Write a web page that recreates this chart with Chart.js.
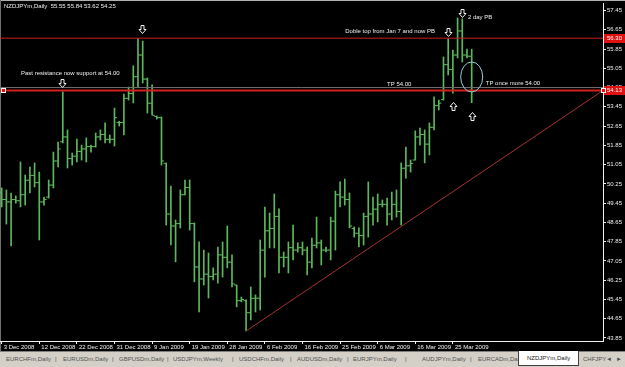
<!DOCTYPE html>
<html>
<head>
<meta charset="utf-8">
<script src="https://cdn.jsdelivr.net/npm/chart.js@4.4.1/dist/chart.umd.min.js"></script>
<style>
  body { margin: 0; background: #000; width: 625px; height: 367px; overflow: hidden; }
  #wrap { position: relative; width: 625px; height: 351px; background: #000; }
  #tabs { position: relative; width: 625px; height: 16px; background: #d4d0c8; border-top: 1px solid #808080;
          font: 6px "Liberation Sans", Arial, sans-serif; color: #505050; box-sizing: border-box; }
  #tabs span { position: absolute; top: 4px; white-space: nowrap; }
  #tabs .active { top: -1px; height: 14px; line-height: 14px; padding: 0 8px; background: #fff; border: 1px solid #404040;
                  border-top: none; color: #202020; }
</style>
</head>
<body>
<div id="wrap"><canvas id="chart" width="625" height="351"></canvas></div>
<div id="tabs"></div>
<script>
// NZDJPYm daily bars, 3 Dec 2008 .. 31 Mar 2009
const opens = [49.9,49.6,49.5,49.6,49.55,49.8,50.4,50.6,50.3,49.5, 49.7,50.2,51.2,52.0,52.2,51.3,51.4,51.6,51.7,51.8,
  51.8,52.2,52.3,52.1,52.1,52.8,52.8,53.8,54.0,54.7, 55.6,54.6,53.6,53.05,53.0,51.1,49.0,48.5,48.6,49.8,
  50.1,48.6,46.8,46.3,46.5,46.4,46.5,47.3,47.2,47.0, 46.05,45.4,45.4,44.9,45.5,45.5,47.5,48.3,48.4,48.9,
  47.2,47.2,47.6,47.5,47.6,47.5,47.0,47.7,47.8,47.5, 47.5,48.7,49.8,49.7,49.6,48.4,48.2,48.1,48.9,49.0,
  49.2,49.4,49.4,49.0,49.4,49.1,50.9,51.0,51.24,52.2, 52.3,51.9,52.6,53.5,53.75,55.2,55.0,55.6,56.6,55.6,
  55.55];
const highs = [50.08,50.00,49.87,49.75,51.16,50.62,50.95,51.12,50.74,49.70, 50.41,51.57,51.99,54.07,52.49,51.53,52.11,51.86,52.16,51.86,
  52.36,52.49,52.78,52.28,53.40,52.85,53.98,54.27,55.15,56.27, 56.18,54.65,54.36,53.07,53.03,51.12,50.16,48.75,50.00,50.41,
  50.41,48.63,47.84,47.50,47.38,46.76,47.63,47.84,48.50,47.30, 46.05,45.55,45.43,45.97,45.64,47.92,49.29,49.04,49.83,49.21,
  47.42,47.84,48.54,47.80,47.84,47.63,48.00,48.87,47.92,47.63, 48.87,49.95,50.33,50.45,49.87,48.46,48.42,49.04,50.33,49.70,
  49.83,49.58,49.66,49.91,50.00,51.12,51.78,51.24,52.45,52.57, 52.49,52.78,53.86,53.73,55.52,56.27,55.81,57.14,57.10,55.85,
  55.84];
const lows = [49.29,48.58,47.67,49.45,49.29,49.37,49.87,50.12,47.92,49.37, 49.66,50.08,50.95,51.95,50.91,51.03,51.16,51.24,51.16,51.57,
  51.78,52.07,51.95,51.95,51.82,52.65,52.28,53.73,53.61,54.27, 54.44,53.19,53.11,52.94,51.03,48.54,47.71,47.01,48.42,49.79,
  48.33,46.18,44.93,46.05,45.51,46.26,46.13,46.38,46.76,45.97, 45.14,45.35,44.14,44.60,44.93,45.01,46.38,47.59,47.59,46.55,
  46.80,46.55,47.09,47.42,47.30,46.47,46.76,47.59,46.88,47.42, 47.09,47.50,49.29,49.37,48.42,48.04,47.63,47.71,48.04,48.54,
  48.67,49.29,48.54,48.75,48.87,48.54,50.49,50.74,51.24,51.86, 51.12,51.45,52.49,53.32,53.73,54.77,54.02,55.48,55.31,55.48,
  53.62];
const closes = [49.6,49.5,49.6,49.55,49.8,50.4,50.6,50.3,49.5,49.6, 50.2,51.2,51.7,52.2,51.3,51.4,51.6,51.7,51.8,51.8,
  52.2,52.3,52.1,52.1,53.0,52.8,53.8,54.0,54.7,55.6, 54.6,53.6,53.1,53.0,51.2,49.0,48.5,48.6,49.8,50.1,
  48.6,46.8,46.3,46.5,46.4,46.5,47.3,47.2,47.0,46.1, 45.4,45.45,44.9,45.5,45.5,47.5,48.3,48.4,48.9,47.2,
  47.2,47.6,47.5,47.6,47.5,47.0,47.7,47.8,47.5,47.5, 48.7,49.8,49.7,49.6,48.5,48.2,48.1,48.9,49.0,49.2,
  49.4,49.4,49.0,49.4,49.1,50.9,51.0,51.1,52.2,52.3, 51.9,52.6,53.5,53.6,55.2,55.0,55.6,56.6,55.6,55.55,
  54.25];

const dateTickIndex = [0, 8, 16, 24, 32, 40, 48, 56, 64, 72, 80, 88, 96];
const dateLabels = ['3 Dec 2008', '12 Dec 2008', '22 Dec 2008', '31 Dec 2008', '9 Jan 2009', '19 Jan 2009',
  '28 Jan 2009', '6 Feb 2009', '16 Feb 2009', '25 Feb 2009', '6 Mar 2009', '16 Mar 2009', '25 Mar 2009'];
const priceTicks = [57.45, 56.65, 55.85, 55.05, 54.25, 53.45, 52.65, 51.85, 51.05, 50.25, 49.45,
  48.65, 47.85, 47.05, 46.25, 45.45, 44.65, 43.85];

const resistance = 56.30;
const support = 54.13;
const bidPrice = 54.25;
const trendStart = { x: 52, y: 44.14 };

const notes = [
  { text: 'Past resistance now support at 54.00', x: 4.1, y: 54.85 },
  { text: 'Doble top from Jan 7 and now PB', x: 73.1, y: 56.60 },
  { text: '2 day PB', x: 99.2, y: 57.18 },
  { text: 'TP 54.00', x: 82.0, y: 54.40 },
  { text: 'TP once more 54.00', x: 103.0, y: 54.44 }
];
const downArrows = [{ x: 12.8, y: 54.44 }, { x: 29.85, y: 56.68 }, { x: 94.95, y: 56.56 }, { x: 97.9, y: 57.35 }];
const upArrows = [{ x: 96, y: 53.48 }, { x: 100, y: 53.07 }];
const circleMark = { x: 100, y: 54.69 };

const tabs = [
  ['EURCHFm,Daily', 6], ['|', 55], ['EURUSDm,Daily', 63], ['|', 112], ['GBPUSDm,Daily', 119], ['|', 167],
  ['USDJPYm,Weekly', 173], ['|', 232], ['USDCHFm,Daily', 239], ['|', 290], ['AUDUSDm,Daily', 297], ['|', 347],
  ['EURJPYm,Daily', 353], ['|', 405], ['AUDJPYm,Daily', 422], ['|', 470], ['EURCADm,Daily', 478],
  ['CHFJPY', 583], ['\u25C4', 606], ['\u25BA', 616]
];

const xMin = -0.36, xMax = 127.94;
const barGreen = '#5cb85c';
const font = { family: '"Liberation Sans", Arial, sans-serif', size: 6 };

const tabBar = document.getElementById('tabs');
tabs.forEach(([t, left]) => {
  const s = document.createElement('span');
  s.textContent = t;
  s.style.left = left + 'px';
  tabBar.appendChild(s);
});
const act = document.createElement('span');
act.className = 'active';
act.textContent = 'NZDJPYm,Daily';
act.style.left = '518px';
tabBar.appendChild(act);

const idx = highs.map((_, i) => i);

const overlay = {
  id: 'overlay',
  beforeDraw(chart) {
    const ctx = chart.ctx;
    ctx.save();
    ctx.fillStyle = '#000';
    ctx.fillRect(0, 0, chart.width, chart.height);
    ctx.fillStyle = '#b0b0b0';
    ctx.fillRect(0, 0, chart.width, 1);
    ctx.fillStyle = '#707070';
    ctx.fillRect(0, 0, 1, chart.height);
    ctx.restore();
  },
  afterDatasetsDraw(chart) {
    const ctx = chart.ctx;
    const xs = chart.scales.x, ys = chart.scales.y;
    const px = v => xs.getPixelForValue(v);
    const py = v => ys.getPixelForValue(v);
    ctx.save();
    ctx.font = `${font.size}px ${font.family}`;
    ctx.fillStyle = '#f0f0f0';
    ctx.textBaseline = 'middle';
    ctx.textAlign = 'left';
    const last = highs.length - 1;
    ctx.fillText(`NZDJPYm,Daily  ${opens[last].toFixed(2)} ${highs[last].toFixed(2)} ${lows[last].toFixed(2)} ${closes[last].toFixed(2)}`, 4, 6);
    notes.forEach(n => ctx.fillText(n.text, px(n.x), py(n.y)));

    // ellipse round the last bar
    ctx.strokeStyle = '#8fcfd8';
    ctx.lineWidth = 1;
    ctx.beginPath();
    ctx.ellipse(px(circleMark.x), py(circleMark.y), 11, 15, 0, 0, Math.PI * 2);
    ctx.stroke();

    // hollow arrows
    ctx.strokeStyle = '#f0f0f0';
    const arrow = (a, dir) => {
      const cx = Math.round(px(a.x)) + 0.5, cy = Math.round(py(a.y)) + 0.5;
      ctx.beginPath();
      ctx.moveTo(cx - 1.5, cy - 4 * dir);
      ctx.lineTo(cx + 1.5, cy - 4 * dir);
      ctx.lineTo(cx + 1.5, cy);
      ctx.lineTo(cx + 3.5, cy);
      ctx.lineTo(cx, cy + 4 * dir);
      ctx.lineTo(cx - 3.5, cy);
      ctx.lineTo(cx - 1.5, cy);
      ctx.closePath();
      ctx.stroke();
    };
    downArrows.forEach(a => arrow(a, 1));
    upArrows.forEach(a => arrow(a, -1));

    // price labels on the axis
    const area = chart.chartArea;
    const priceBox = (v) => {
      const y = Math.round(py(v));
      ctx.fillStyle = '#e01010';
      ctx.fillRect(area.right + 1, y - 4, 21, 9);
      ctx.fillStyle = '#fff';
      ctx.fillText(v.toFixed(2), area.right + 4, y + 0.5);
    };
    priceBox(resistance);
    priceBox(support);

    // selected line end points
    const sy = Math.round(py(support));
    [area.left + 1, area.right - 2].forEach(x => {
      ctx.fillStyle = '#fff';
      ctx.fillRect(x, sy - 2, 5, 5);
      ctx.fillStyle = '#e01010';
      ctx.fillRect(x + 1, sy - 1, 3, 3);
    });
    ctx.restore();
  }
};

new Chart(document.getElementById('chart'), {
  type: 'line',
  data: {
    datasets: [
      {
        type: 'line', data: [{ x: xMin, y: bidPrice }, { x: xMax, y: bidPrice }],
        borderColor: '#707070', borderWidth: 1, pointRadius: 0
      },
      {
        type: 'line', data: [{ x: xMin, y: resistance }, { x: xMax, y: resistance }],
        borderColor: '#c42222', borderWidth: 1, pointRadius: 0
      },
      {
        type: 'line', data: [{ x: xMin, y: support }, { x: xMax, y: support }],
        borderColor: '#d42020', borderWidth: 2, pointRadius: 0
      },
      {
        type: 'line', data: [trendStart, { x: xMax, y: support }],
        borderColor: '#a83030', borderWidth: 1, pointRadius: 0
      },
      {
        type: 'bar', data: idx.map(i => ({ x: i, y: [lows[i], highs[i]] })),
        backgroundColor: barGreen, borderWidth: 0, barThickness: 1, grouped: false
      },
      {
        type: 'line', showLine: false, data: idx.map(i => ({ x: i - 0.28, y: opens[i] })),
        pointStyle: 'line', pointRadius: 1.3, pointBorderWidth: 1, pointBorderColor: barGreen
      },
      {
        type: 'line', showLine: false, data: idx.map(i => ({ x: i + 0.28, y: closes[i] })),
        pointStyle: 'line', pointRadius: 1.3, pointBorderWidth: 1, pointBorderColor: barGreen
      }
    ]
  },
  options: {
    responsive: false,
    animation: false,
    events: [],
    layout: { autoPadding: false, padding: { top: 3, left: 0, right: 0, bottom: 0 } },
    plugins: { legend: { display: false }, tooltip: { enabled: false } },
    scales: {
      x: {
        type: 'linear', min: xMin, max: xMax, offset: false,
        border: { display: true, color: '#f0f0f0', width: 1 },
        grid: { display: true, drawOnChartArea: false, drawTicks: true, tickLength: 3, color: '#f0f0f0', offset: false },
        ticks: {
          color: '#f0f0f0', font: font, padding: 0, align: 'start', labelOffset: 2,
          maxRotation: 0, minRotation: 0, autoSkip: false,
          callback: v => dateLabels[dateTickIndex.indexOf(v)]
        },
        afterBuildTicks: s => { s.ticks = dateTickIndex.map(v => ({ value: v })); },
        afterFit: s => { s.height = 10; s.paddingLeft = 0; s.paddingRight = 0; }
      },
      y: {
        type: 'linear', position: 'right', min: 43.725, max: 57.761,
        border: { display: true, color: '#f0f0f0', width: 1 },
        grid: { display: true, drawOnChartArea: false, drawTicks: true, tickLength: 3, color: '#f0f0f0' },
        ticks: { color: '#f0f0f0', font: font, padding: 1, callback: v => v.toFixed(2) },
        afterBuildTicks: s => { s.ticks = priceTicks.map(v => ({ value: v })); },
        afterFit: s => { s.width = 22; s.paddingTop = 0; s.paddingBottom = 0; }
      }
    }
  },
  plugins: [overlay]
});
</script>
</body>
</html>
